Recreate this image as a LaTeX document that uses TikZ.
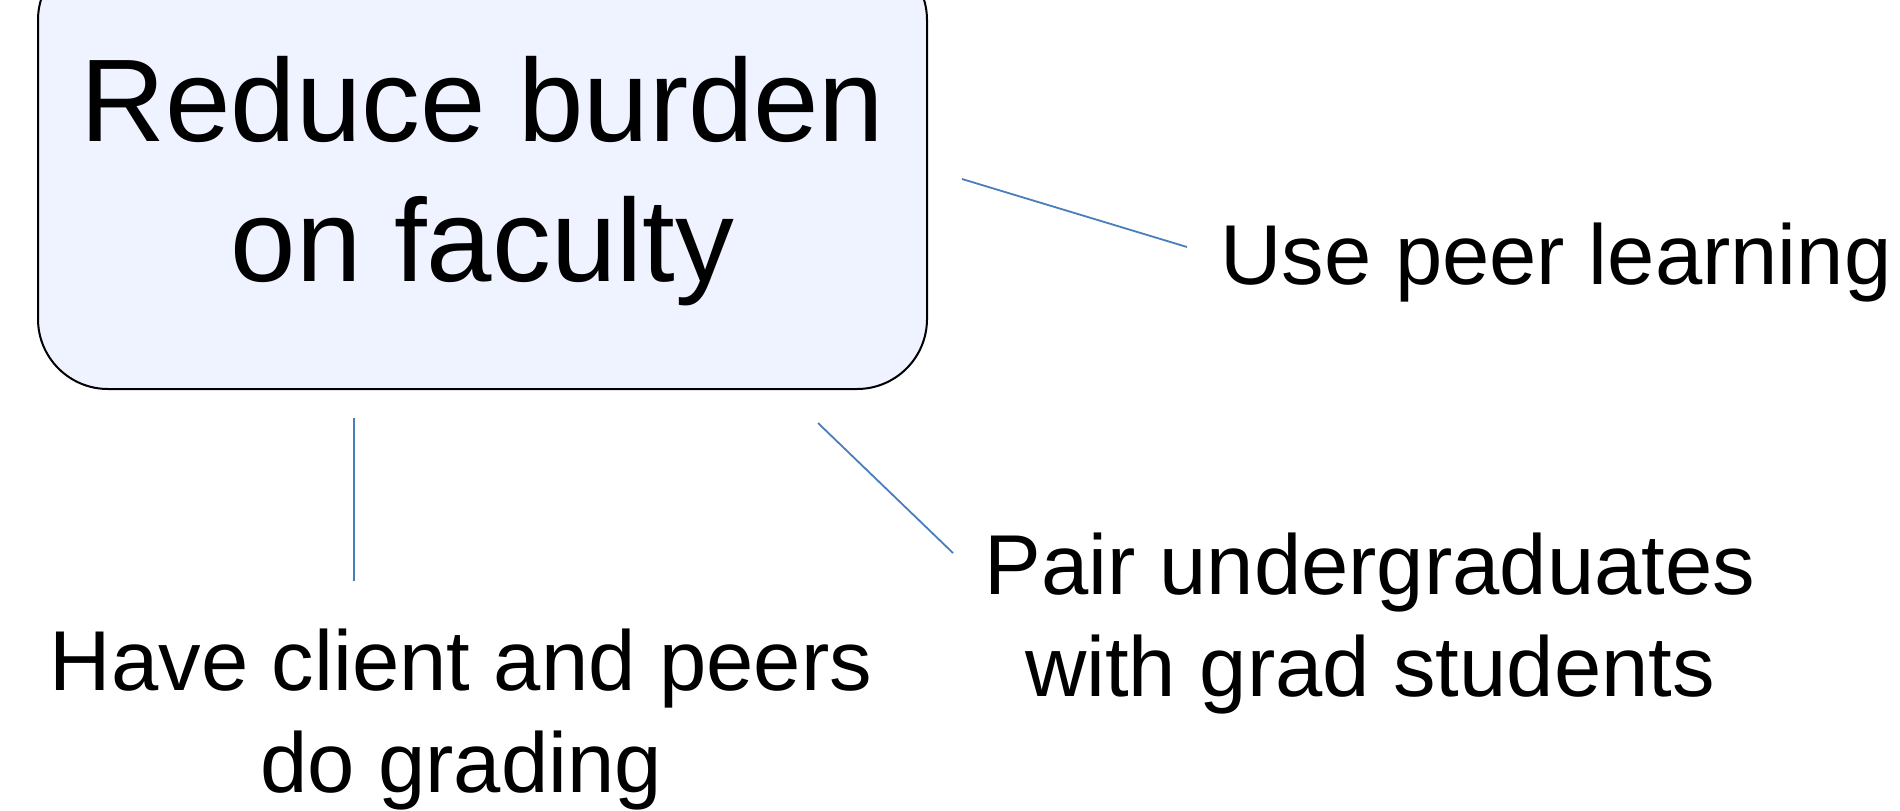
\documentclass[tikz,border=0pt]{standalone}
\usepackage{fontspec}
\setmainfont{Liberation Sans}
\begin{document}
\begin{tikzpicture}[x=0.5pt,y=-0.5pt,
  goalbox/.style={draw=black, line width=1pt, fill=goalfill, rounded corners=35pt, inner sep=0pt},
  goaltext/.style={inner sep=0pt, align=center, font=\fontsize{58.8}{70}\selectfont},
  idea/.style={inner sep=0pt, align=center, anchor=base, font=\fontsize{42.5}{51}\selectfont},
  link/.style={draw=linkblue, line width=0.9pt}]
\definecolor{goalfill}{RGB}{239,242,255}
\definecolor{linkblue}{RGB}{74,126,187}
\useasboundingbox (0,0) rectangle (1900,810);

% central goal
\node[goalbox, minimum width=444.5pt, minimum height=219.5pt] (goal) at (482.5,169.5) {};
\node[goaltext] (goallabel) at ([yshift=-6pt]goal.center) {Reduce burden\\on faculty};

% surrounding ideas (base anchor sits on the last line)
\node[idea] (peer) at (1556,284) {Use peer learning};
\node[idea] (pair) at (1370,696) {Pair undergraduates\\with grad students};
\node[idea] (grade) at (461,792) {Have client and peers\\do grading};

% connector end points
\coordinate (peerA) at (962,179);
\coordinate (peerB) at (1187,247);
\coordinate (gradeA) at (354,418);
\coordinate (gradeB) at (354,581);
\coordinate (pairA) at (818,423);
\coordinate (pairB) at (953,553);

\draw[link] (peerA) -- (peerB);
\draw[link] (gradeA) -- (gradeB);
\draw[link] (pairA) -- (pairB);
\end{tikzpicture}
\end{document}
